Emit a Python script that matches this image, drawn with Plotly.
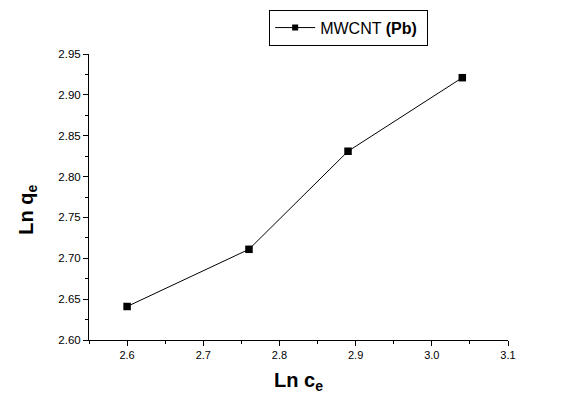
import plotly.graph_objects as go

ln_ce = [2.60, 2.76, 2.89, 3.04]
ln_qe = [2.641, 2.711, 2.831, 2.921]
series_name = "MWCNT <b>(Pb)</b>\u00a0"

fig = go.Figure()
fig.add_trace(go.Scatter(
    x=ln_ce, y=ln_qe, mode="lines+markers", name=series_name,
    line=dict(color="black", width=1),
    marker=dict(symbol="square", size=7.5, color="black"),
    showlegend=False,
))
# legend entry (smaller sample marker, as in the reference)
fig.add_trace(go.Scatter(
    x=[None], y=[None], mode="lines+markers", name=series_name,
    line=dict(color="black", width=1),
    marker=dict(symbol="square", size=6, color="black"),
    showlegend=True,
))

font_family = "Liberation Sans, Arial, sans-serif"
# the page body adds an 8px margin, so the figure is 8px smaller than the window
fig.update_layout(
    width=554, height=395,
    margin=dict(l=81, r=54, t=46, b=63, autoexpand=False),
    paper_bgcolor="white", plot_bgcolor="white",
    font=dict(family=font_family, color="black", size=11),
    showlegend=True,
    legend=dict(
        x=0.43, y=1.155, xanchor="left", yanchor="top",
        bordercolor="black", borderwidth=1, bgcolor="white",
        font=dict(size=16, family=font_family),
        itemwidth=40,
    ),
    xaxis=dict(
        range=[2.55, 3.1], dtick=0.1, tick0=2.6, tickformat=".1f",
        showgrid=False, zeroline=False, showline=True, linecolor="black", linewidth=1,
        ticks="outside", ticklen=5, tickcolor="black",
        minor=dict(ticks="outside", ticklen=3, dtick=0.05, tick0=2.55, tickcolor="black"),
        title=dict(text="<b>Ln c<sub>e</sub></b>", font=dict(size=20), standoff=12),
        tickfont=dict(size=11),
        automargin=False,
    ),
    yaxis=dict(
        range=[2.6, 2.95], dtick=0.05, tick0=2.6, tickformat=".2f",
        showgrid=False, zeroline=False, showline=True, linecolor="black", linewidth=1,
        ticks="outside", ticklen=5, tickcolor="black",
        minor=dict(ticks="outside", ticklen=3, dtick=0.025, tick0=2.6, tickcolor="black"),
        tickfont=dict(size=11.5),
        automargin=False,
    ),
    annotations=[dict(
        text="<b>Ln q<sub>e</sub></b>", textangle=-90,
        xref="paper", yref="paper", x=-0.146, y=0.455,
        xanchor="center", yanchor="middle", showarrow=False,
        font=dict(size=20, family=font_family, color="black"),
    )],
)

fig.write_html("out.html")
